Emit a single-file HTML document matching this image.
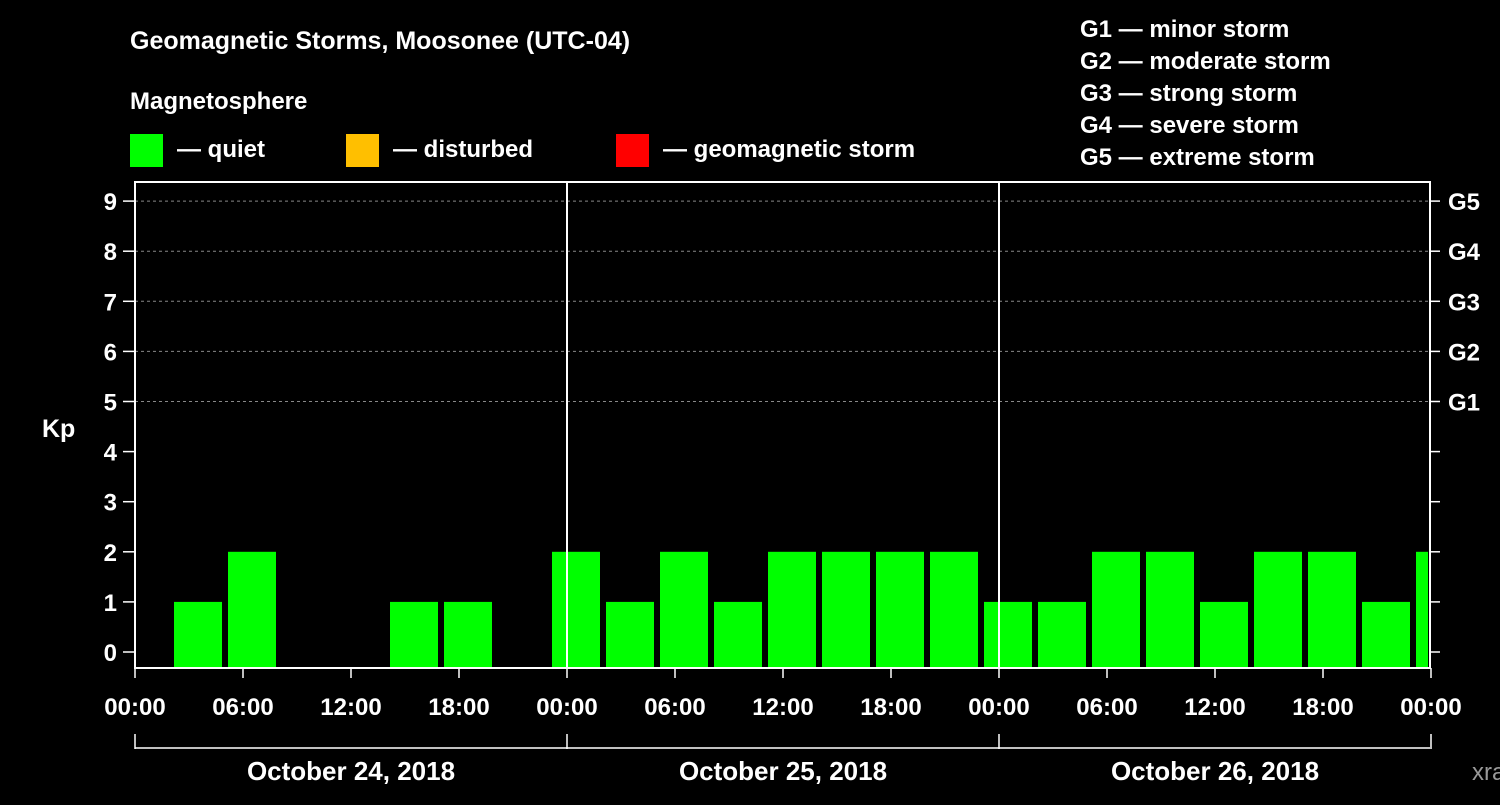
<!DOCTYPE html>
<html><head><meta charset="utf-8"><style>
body{margin:0;background:#000;width:1500px;height:800px;overflow:hidden}
svg text{font-family:"Liberation Sans",Arial,sans-serif;font-weight:bold;fill:#fff}
</style></head><body>
<svg id="c" width="1500" height="800">
<text x="130" y="49" font-size="25">Geomagnetic Storms, Moosonee (UTC-04)</text>
<text x="130" y="109" font-size="24">Magnetosphere</text>
<rect x="130" y="134" width="33" height="33" fill="#00ff00"/>
<text x="177" y="157" font-size="24">— quiet</text>
<rect x="346" y="134" width="33" height="33" fill="#ffbf00"/>
<text x="393" y="157" font-size="24">— disturbed</text>
<rect x="616" y="134" width="33" height="33" fill="#ff0000"/>
<text x="663" y="157" font-size="24">— geomagnetic storm</text>
<g font-size="24">
<text x="1080" y="37">G1 — minor storm</text>
<text x="1080" y="69">G2 — moderate storm</text>
<text x="1080" y="101">G3 — strong storm</text>
<text x="1080" y="133">G4 — severe storm</text>
<text x="1080" y="165">G5 — extreme storm</text>
</g>
<text x="42" y="437" font-size="25">Kp</text>
<text x="1472" y="780" font-size="24" fill="#aaa" style="fill:#999;font-weight:normal">xras.ru</text>
<g id="g"></g>
</svg>
<script>
const values=[0,1,2,0,0,1,1,0,2,1,2,1,2,2,2,2,1,1,2,2,1,2,2,1,2];
const yTicks=[0,1,2,3,4,5,6,7,8,9];
const gLabels=["G1","G2","G3","G4","G5"];
const xLabels=["00:00","06:00","12:00","18:00","00:00","06:00","12:00","18:00","00:00","06:00","12:00","18:00","00:00"];
const dates=["October 24, 2018","October 25, 2018","October 26, 2018"];
const L=135,R=1430,T=182,B=668,day=432;
const y=v=>652-v*50.1;
const x=h=>L+h*(day/24);
const ns="http://www.w3.org/2000/svg",g=document.getElementById('g');
function mk(t,a,txt){const e=document.createElementNS(ns,t);for(const k in a)e.setAttribute(k,a[k]);if(txt!==undefined)e.textContent=txt;g.appendChild(e);return e;}
yTicks.forEach(v=>{
 if(v>=5){const l=mk('line',{x1:L,x2:R,y1:y(v),y2:y(v),stroke:'#888','stroke-dasharray':'3,3'});
 
 }
 mk('line',{x1:L-12,x2:L,y1:y(v),y2:y(v),stroke:'#fff','stroke-width':1.5});
 mk('line',{x1:R,x2:R+10,y1:y(v),y2:y(v),stroke:'#fff','stroke-width':1.5});
 const t=mk('text',{x:L-18,y:y(v)+9,'font-size':24,'text-anchor':'end'},v);
 
 
});
gLabels.forEach((s,i)=>{const t=mk('text',{x:R+18,y:y(5+i)+9,'font-size':24},s);
 
 });
values.forEach((v,i)=>{
 if(v<=0)return;
 const cx=x(i*3)+9;let x0=cx-24,x1=Math.min(cx+24,R-2);
 const r=mk('rect',{x:x0,y:y(v),width:x1-x0,height:B-y(v),fill:'#00ff00'});
 
 
});
[1,2].forEach(d=>mk('line',{x1:x(d*24),x2:x(d*24),y1:T,y2:B,stroke:'#fff','stroke-width':2}));
const f=mk('rect',{x:L,y:T,width:R-L,height:B-T,fill:'none',stroke:'#fff','stroke-width':2});


xLabels.forEach((s,i)=>{mk('line',{x1:x(i*6),x2:x(i*6),y1:B,y2:B+10,stroke:'#fff','stroke-width':1.5});
 const t=mk('text',{x:x(i*6),y:715,'font-size':24,'text-anchor':'middle'},s);
 
 });
mk('line',{x1:L,x2:R,y1:748,y2:748,stroke:'#fff','stroke-width':1.5});
[0,1,2,3].forEach(d=>mk('line',{x1:x(d*24),x2:x(d*24),y1:734,y2:749,stroke:'#fff','stroke-width':1.5}));
dates.forEach((s,d)=>{const t=mk('text',{x:x(d*24+12),y:780,'font-size':26,'text-anchor':'middle'},s);
 
 });
</script>
</body></html>
